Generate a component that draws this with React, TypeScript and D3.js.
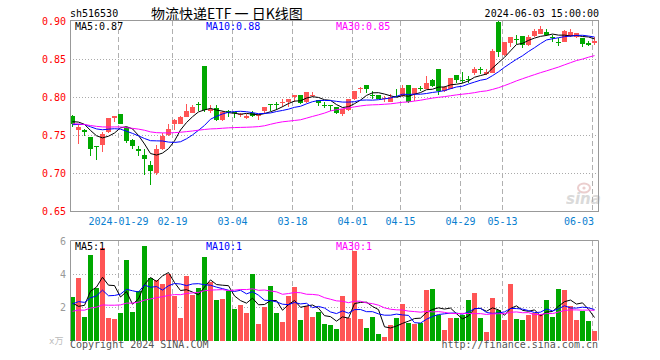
import React from 'react';
import * as d3 from 'd3';

const dates: string[] = (
  '2024-01-17,2024-01-18,2024-01-19,2024-01-22,2024-01-23,2024-01-24,2024-01-25,2024-01-26,2024-01-29,2024-01-30,2024-01-31,' +
  '2024-02-01,2024-02-02,2024-02-05,2024-02-06,2024-02-07,2024-02-08,2024-02-19,2024-02-20,2024-02-21,2024-02-22,2024-02-23,2024-02-26,2024-02-27,2024-02-28,2024-02-29,' +
  '2024-03-01,2024-03-04,2024-03-05,2024-03-06,2024-03-07,2024-03-08,2024-03-11,2024-03-12,2024-03-13,2024-03-14,2024-03-15,2024-03-18,2024-03-19,2024-03-20,2024-03-21,2024-03-22,2024-03-25,2024-03-26,2024-03-27,2024-03-28,2024-03-29,' +
  '2024-04-01,2024-04-02,2024-04-03,2024-04-08,2024-04-09,2024-04-10,2024-04-11,2024-04-12,2024-04-15,2024-04-16,2024-04-17,2024-04-18,2024-04-19,2024-04-22,2024-04-23,2024-04-24,2024-04-25,2024-04-26,2024-04-29,2024-04-30,' +
  '2024-05-06,2024-05-07,2024-05-08,2024-05-09,2024-05-10,2024-05-13,2024-05-14,2024-05-15,2024-05-16,2024-05-17,2024-05-20,2024-05-21,2024-05-22,2024-05-23,2024-05-24,2024-05-27,2024-05-28,2024-05-29,2024-05-30,2024-05-31,' +
  '2024-06-03'
).split(',');

const openP = [
  0.775, 0.756, 0.757, 0.747, 0.735, 0.737, 0.754, 0.772, 0.778, 0.761,
  0.743, 0.731, 0.724, 0.711, 0.700, 0.732, 0.750, 0.765, 0.765, 0.774,
  0.779, 0.791, 0.841, 0.781, 0.785, 0.770, 0.782, 0.780, 0.777, 0.772,
  0.779, 0.775, 0.781, 0.791, 0.791, 0.793, 0.794, 0.800, 0.802, 0.794,
  0.801, 0.796, 0.789, 0.789, 0.787, 0.777, 0.783, 0.797, 0.8105, 0.816,
  0.803, 0.802, 0.797, 0.794, 0.801, 0.801, 0.816, 0.804, 0.812, 0.811,
  0.822, 0.837, 0.808, 0.811, 0.829, 0.823, 0.824, 0.831, 0.837, 0.830,
  0.832, 0.899, 0.855, 0.8715, 0.876, 0.880, 0.868, 0.880, 0.883, 0.885,
  0.879, 0.873, 0.873, 0.880, 0.879, 0.878, 0.871, 0.871,
];
const highP = [
  0.776, 0.764, 0.758, 0.747, 0.735, 0.754, 0.772, 0.775, 0.778, 0.761,
  0.745, 0.736, 0.731, 0.716, 0.737, 0.752, 0.764, 0.771, 0.775, 0.791,
  0.789, 0.793, 0.841, 0.789, 0.789, 0.782, 0.783, 0.780, 0.779, 0.777,
  0.782, 0.777, 0.787, 0.791, 0.793, 0.797, 0.797, 0.803, 0.802, 0.807,
  0.807, 0.796, 0.794, 0.789, 0.787, 0.784, 0.797, 0.808, 0.813, 0.816,
  0.808, 0.802, 0.801, 0.804, 0.810, 0.816, 0.816, 0.812, 0.815, 0.827,
  0.824, 0.837, 0.815, 0.825, 0.829, 0.833, 0.827, 0.840, 0.840, 0.837,
  0.863, 0.900, 0.873, 0.879, 0.882, 0.880, 0.882, 0.889, 0.894, 0.889,
  0.882, 0.877, 0.888, 0.890, 0.884, 0.878, 0.874, 0.879,
];
const lowP = [
  0.760, 0.738, 0.749, 0.723, 0.717, 0.727, 0.752, 0.767, 0.764, 0.740,
  0.731, 0.723, 0.697, 0.684, 0.697, 0.730, 0.749, 0.757, 0.764, 0.774,
  0.779, 0.781, 0.780, 0.779, 0.769, 0.769, 0.774, 0.772, 0.774, 0.771,
  0.774, 0.770, 0.779, 0.782, 0.783, 0.787, 0.787, 0.794, 0.791, 0.792,
  0.800, 0.788, 0.785, 0.782, 0.777, 0.775, 0.782, 0.796, 0.805, 0.805,
  0.798, 0.797, 0.793, 0.793, 0.800, 0.800, 0.792, 0.795, 0.808, 0.810,
  0.813, 0.803, 0.807, 0.810, 0.818, 0.818, 0.818, 0.829, 0.830, 0.829,
  0.831, 0.853, 0.854, 0.866, 0.870, 0.864, 0.867, 0.879, 0.883, 0.880,
  0.872, 0.867, 0.872, 0.879, 0.877, 0.866, 0.867, 0.868,
];
const closeP = [
  0.765, 0.761, 0.754, 0.731, 0.734, 0.751, 0.772, 0.775, 0.765, 0.742,
  0.736, 0.729, 0.719, 0.702, 0.732, 0.749, 0.758, 0.770, 0.774, 0.781,
  0.787, 0.790, 0.783, 0.784, 0.770, 0.780, 0.780, 0.779, 0.778, 0.775,
  0.775, 0.776, 0.787, 0.790, 0.789, 0.794, 0.797, 0.803, 0.792, 0.807,
  0.803, 0.792, 0.788, 0.788, 0.779, 0.784, 0.797, 0.808, 0.8114, 0.810,
  0.801, 0.798, 0.799, 0.800, 0.800, 0.812, 0.794, 0.812, 0.811, 0.819,
  0.815, 0.808, 0.813, 0.825, 0.823, 0.822, 0.823, 0.837, 0.836, 0.833,
  0.861, 0.859, 0.872, 0.8785, 0.875, 0.868, 0.879, 0.887, 0.890, 0.881,
  0.877, 0.872, 0.887, 0.885, 0.884, 0.870, 0.869, 0.874,
];
const volume = [
  2.61, 3.76, 1.43, 5.13, 3.19, 5.56, 1.37, 1.31, 1.68, 4.83,
  1.74, 2.97, 5.68, 3.78, 3.62, 3.43, 3.98, 2.67, 1.37, 3.86,
  2.73, 3.15, 5.01, 3.52, 2.46, 2.53, 3.01, 1.92, 2.12, 1.68,
  4.04, 1.01, 2.0, 3.31, 1.68, 1.13, 2.71, 3.25, 1.25, 2.06,
  1.43, 1.74, 1.01, 0.95, 0.71, 2.71, 1.37, 5.39, 1.31, 0.77,
  1.43, 0.40, 0.22, 0.95, 1.37, 2.22, 1.07, 1.01, 1.07, 3.07,
  3.13, 1.56, 0.65, 1.37, 1.37, 1.56, 2.46, 2.89, 1.37, 0.53,
  2.59, 1.86, 1.25, 3.43, 1.31, 1.25, 1.56, 1.68, 1.62, 2.46,
  1.43, 3.13, 3.07, 2.10, 1.25, 1.80, 1.19, 0.59,
];
// closes / volumes before the visible window (for the moving averages)
const priorClose = [
  0.772, 0.775, 0.770, 0.768, 0.773, 0.776, 0.771, 0.766, 0.769, 0.764,
  0.760, 0.763, 0.767, 0.762, 0.758, 0.761, 0.757, 0.760, 0.756, 0.762,
  0.758, 0.755, 0.761, 0.762, 0.762, 0.764, 0.769, 0.771, 0.769,
];
const priorVolume = [
  1.4, 1.8, 1.2, 1.6, 1.5, 1.9, 1.3, 1.1, 1.7, 1.6,
  1.4, 2.0, 1.5, 1.3, 1.8, 1.6, 1.2, 1.5, 1.7, 1.7,
  2.3, 1.9, 2.4, 2.0, 2.1, 4.76, 1.13, 0.88, 1.92,
];

const priceTicks = [0.9, 0.85, 0.8, 0.75, 0.7, 0.65];
const priceGrid = [0.85, 0.8, 0.75, 0.7];
const volTicks = [6, 4, 2];
const volGrid = [4, 2];
const tickDates = ['2024-01-29', '2024-02-19', '2024-03-04', '2024-03-18', '2024-04-01', '2024-04-15', '2024-04-29', '2024-05-13', '2024-06-03'];
const tickLabels = ['2024-01-29', '02-19', '03-04', '03-18', '04-01', '04-15', '04-29', '05-13', '06-03'];
const priceMaLabels = ['MA5:0.87', 'MA10:0.88', 'MA30:0.85'];
const volMaLabels = ['MA5:1', 'MA10:1', 'MA30:1'];
const maPeriods = [5, 10, 30];

const RED = '#ff5555';
const GREEN = '#00a800';
const MA_COLORS = ['#000000', '#0000ff', '#ff00ff'];
const MONO = '"DejaVu Sans Mono", monospace';

function movingAvg(series: number[], prior: number[], n: number): number[] {
  const all = prior.concat(series);
  return series.map((_, i) => {
    const end = prior.length + i + 1;
    return d3.mean(all.slice(end - n, end)) as number;
  });
}

export default function App() {
  const n = dates.length;
  const x = d3.scaleLinear().domain([0, n]).range([70, 598]);
  const y = d3.scaleLinear().domain([0.65, 0.9]).range([211, 21]);
  const vy = d3.scaleLinear().domain([0, 6]).range([340.5, 241]);
  const cx = (i: number) => x(i) + 2.5;

  const priceMA = maPeriods.map((p) => movingAvg(closeP, priorClose, p));
  const volMA = maPeriods.map((p) => movingAvg(volume, priorVolume, p));
  const pLine = d3.line<number>().x((_, i) => cx(i)).y((d) => y(d));
  const vLine = d3.line<number>().x((_, i) => cx(i)).y((d) => vy(d));

  const tickIdx = tickDates.map((d) => dates.indexOf(d));
  const maLabelX = [75, 206, 336];

  return (
    <svg width={660} height={360} style={{ position: 'absolute', left: 0, top: 0, background: '#fff' }}>
      {/* header */}
      <text x={70} y={16.5} fontFamily={MONO} fontSize={10} fill="#000">sh516530</text>
      <text x={151} y={18.5} fontFamily='"Noto Sans CJK SC", sans-serif' fontSize={14} fill="#000">物流快递ETF 一 日K线图</text>
      <text x={599} y={16.5} fontFamily={MONO} fontSize={10} fill="#000" textAnchor="end">2024-06-03 15:00:00</text>

      {/* watermark */}
      <g opacity={0.9}>
        <ellipse cx={584} cy={188} rx={6} ry={4.5} fill="none" stroke="#e9c9c9" strokeWidth={2} />
        <circle cx={584} cy={188} r={1.6} fill="#e9c9c9" />
        <text x={566} y={204} fontFamily='"DejaVu Sans", sans-serif' fontStyle="italic" fontWeight="bold" fontSize={15} fill="#d6d6d6">sina</text>
      </g>

      {/* grids */}
      {priceGrid.map((v) => (
        <line key={'pg' + v} x1={70} x2={598} y1={Math.round(y(v)) + 0.5} y2={Math.round(y(v)) + 0.5} stroke="#aaa" strokeDasharray="1,2" />
      ))}
      {volGrid.map((v) => (
        <line key={'vg' + v} x1={70} x2={598} y1={Math.round(vy(v)) + 0.5} y2={Math.round(vy(v)) + 0.5} stroke="#aaa" strokeDasharray="1,2" />
      ))}
      {tickIdx.map((i) => (
        <g key={'vt' + i}>
          <line x1={x(i) + 0.5} x2={x(i) + 0.5} y1={21} y2={211} stroke="#b0b0b0" strokeDasharray="5,3" />
          <line x1={x(i) + 0.5} x2={x(i) + 0.5} y1={241} y2={340} stroke="#b0b0b0" strokeDasharray="5,3" />
        </g>
      ))}

      {/* candles */}
      <g shapeRendering="crispEdges">
        {closeP.map((c, i) => {
          const o = openP[i];
          const up = c >= o;
          const col = up ? RED : GREEN;
          const top = y(Math.max(o, c));
          const h = Math.max(1, Math.abs(y(o) - y(c)));
          return (
            <g key={'c' + i}>
              <rect x={x(i) + 2} y={y(highP[i])} width={1} height={Math.max(1, y(lowP[i]) - y(highP[i]))} fill={col} />
              <rect x={x(i)} y={top} width={5} height={h} fill={col} />
            </g>
          );
        })}
        {volume.map((v, i) => {
          const up = closeP[i] >= openP[i];
          return <rect key={'v' + i} x={x(i)} y={vy(v)} width={5} height={vy(0) - vy(v)} fill={up ? RED : GREEN} />;
        })}
      </g>

      {/* moving averages */}
      {priceMA.map((m, k) => (
        <path key={'pm' + k} d={pLine(m) || ''} fill="none" stroke={MA_COLORS[k]} strokeWidth={1} />
      ))}
      {volMA.map((m, k) => (
        <path key={'vm' + k} d={vLine(m) || ''} fill="none" stroke={MA_COLORS[k]} strokeWidth={1} />
      ))}

      {/* frames */}
      <rect x={70.5} y={20.5} width={528} height={191} fill="none" stroke="#999" />
      <path d="M70.5,340.5 V240.5 H598.5 V340.5" fill="none" stroke="#999" />

      {/* axis labels */}
      {priceTicks.map((v) => (
        <text key={'pt' + v} x={66} y={y(v) + 3.5} fontFamily={MONO} fontSize={10} fill="#ff0000" textAnchor="end">{v.toFixed(2)}</text>
      ))}
      {volTicks.map((v) => (
        <text key={'vtk' + v} x={66} y={vy(v) + 3.5} fontFamily={MONO} fontSize={10} fill="#999" textAnchor="end">{v}</text>
      ))}
      {tickIdx.map((i, k) => (
        <text key={'dl' + k} x={k === tickIdx.length - 1 ? x(i) + 2 : x(i) + 0.5} y={225} fontFamily={MONO} fontSize={10} fill="#0a80d0" textAnchor={k === tickIdx.length - 1 ? 'end' : 'middle'}>{tickLabels[k]}</text>
      ))}

      {/* MA labels */}
      {priceMaLabels.map((t, k) => (
        <text key={'pml' + k} x={maLabelX[k]} y={30} fontFamily={MONO} fontSize={10} fill={MA_COLORS[k]}>{t}</text>
      ))}
      {volMaLabels.map((t, k) => (
        <text key={'vml' + k} x={maLabelX[k]} y={250} fontFamily={MONO} fontSize={10} fill={MA_COLORS[k]}>{t}</text>
      ))}

      {/* footer */}
      <text x={49} y={344} fontFamily={'"DejaVu Sans Mono", "Noto Sans CJK SC", monospace'} fontSize={9} fill="#bbb">x万</text>
      <text x={70} y={348} fontFamily={MONO} fontSize={10} fill="#555">Copyright 2024 SINA.COM</text>
      <text x={598} y={348} fontFamily={MONO} fontSize={10} fill="#555" textAnchor="end">http://finance.sina.com.cn</text>
    </svg>
  );
}
